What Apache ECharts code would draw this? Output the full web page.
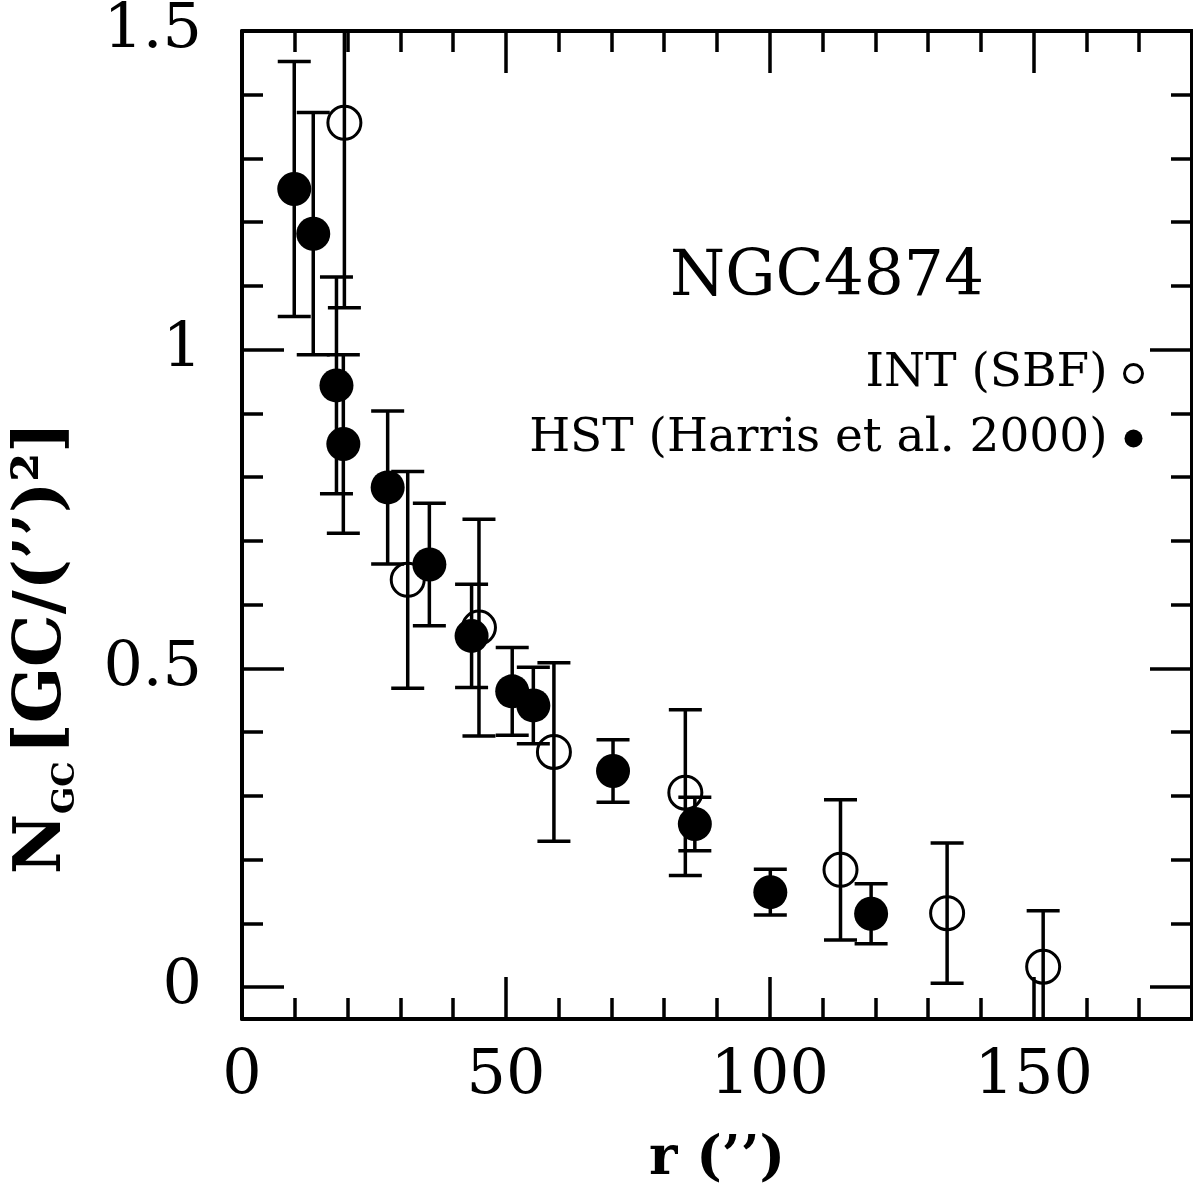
<!DOCTYPE html>
<html>
<head>
<meta charset="utf-8">
<title>NGC4874 globular cluster surface density</title>
<script src="https://cdn.jsdelivr.net/npm/echarts@6/dist/echarts.min.js"></script>
<style>
  html, body { margin: 0; padding: 0; background: #fff; }
  #chart { width: 1193px; height: 1192px; }
</style>
</head>
<body>
<div id="chart"></div>
<script>
// INT (SBF) radial profile: radius (arcsec), density, 1-sigma error
const intR   = [19.4, 31.4, 44.9, 59.1, 84.0, 113.4, 133.6, 151.8];
const intN   = [1.356, 0.639, 0.564, 0.369, 0.305, 0.184, 0.116, 0.032];
const intErr = [0.29, 0.17, 0.17, 0.14, 0.13, 0.11, 0.11, 0.088];

// HST profile (Harris et al. 2000)
const hstR   = [9.9, 13.5, 17.9, 19.2, 27.6, 35.5, 43.5, 51.2, 55.2, 70.3, 85.8, 100.1, 119.2];
const hstN   = [1.252, 1.182, 0.944, 0.852, 0.784, 0.663, 0.551, 0.464, 0.442, 0.339, 0.256, 0.149, 0.115];
const hstErr = [0.20, 0.19, 0.17, 0.14, 0.12, 0.096, 0.081, 0.069, 0.060, 0.049, 0.042, 0.036, 0.047];

// Axis ranges and tick positions
const xRange = [0, 180];
const yRange = [-0.05, 1.5];
const xMajorTicks = [0, 50, 100, 150];
const xMinorTicks = [10, 20, 30, 40, 60, 70, 80, 90, 110, 120, 130, 140, 160, 170];
const yMajorTicks = [0, 0.5, 1, 1.5];
const yMinorTicks = [0.1, 0.2, 0.3, 0.4, 0.6, 0.7, 0.8, 0.9, 1.1, 1.2, 1.3, 1.4];

// Text
const titleText = 'NGC4874';
const intName = 'INT (SBF)';
const hstName = 'HST (Harris et al. 2000)';
const xTitle = 'r (\u2019\u2019)';

const FONT = 'DejaVu Serif';
const INK = '#000';

function axisPair(kind, position, major, minor, withLabels, range) {
  const base = {
    type: 'value',
    position: position,
    min: range[0],
    max: range[1],
    splitLine: { show: false },
    axisPointer: { show: false }
  };
  const majorAxis = Object.assign({}, base, {
    axisLine: { show: true, onZero: false, lineStyle: { color: INK, width: 4 } },
    axisTick: { show: true, inside: true, length: 42, customValues: major,
                lineStyle: { color: INK, width: 3.5 } },
    axisLabel: withLabels
      ? { show: true, customValues: major, margin: kind === 'x' ? 27 : 40,
          fontSize: 62, fontFamily: FONT, color: INK, showMaxLabel: true, showMinLabel: true }
      : { show: false }
  });
  const minorAxis = Object.assign({}, base, {
    axisLine: { show: false, onZero: false },
    axisTick: { show: true, inside: true, length: 21, customValues: minor,
                lineStyle: { color: INK, width: 3.5 } },
    axisLabel: { show: false }
  });
  return [majorAxis, minorAxis];
}

const xAxes = axisPair('x', 'bottom', xMajorTicks, xMinorTicks, true, xRange)
  .concat(axisPair('x', 'top', xMajorTicks, xMinorTicks, false, xRange));
xAxes[0].name = xTitle;
xAxes[0].nameLocation = 'middle';
xAxes[0].nameGap = 114;
xAxes[0].nameTextStyle = { fontSize: 54, fontWeight: 'bold', fontFamily: FONT, color: INK };

const yAxes = axisPair('y', 'left', yMajorTicks, yMinorTicks, true, yRange)
  .concat(axisPair('y', 'right', yMajorTicks, yMinorTicks, false, yRange));

// Vertical error bar with end caps, clipped to the plotting range
function errorBar(params, api) {
  const x = api.value(0);
  const y = api.value(1);
  const e = api.value(2);
  const hiVal = y + e, loVal = y - e;
  const top = api.coord([x, Math.min(hiVal, yRange[1])]);
  const bot = api.coord([x, Math.max(loVal, yRange[0])]);
  const half = 16.5;
  const style = { stroke: INK, lineWidth: 3.5, fill: null };
  const children = [
    { type: 'line', shape: { x1: top[0], y1: top[1], x2: bot[0], y2: bot[1] }, style: style }
  ];
  if (hiVal <= yRange[1]) {
    children.push({ type: 'line', shape: { x1: top[0] - half, y1: top[1], x2: top[0] + half, y2: top[1] }, style: style });
  }
  if (loVal >= yRange[0]) {
    children.push({ type: 'line', shape: { x1: bot[0] - half, y1: bot[1], x2: bot[0] + half, y2: bot[1] }, style: style });
  }
  return { type: 'group', children: children };
}

const intData = intR.map((r, i) => [r, intN[i], intErr[i]]);
const hstData = hstR.map((r, i) => [r, hstN[i], hstErr[i]]);

const chart = echarts.init(document.getElementById('chart'), null, { renderer: 'canvas' });

chart.setOption({
  backgroundColor: '#fff',
  animation: false,
  grid: { left: 242, top: 30, width: 950, height: 989, containLabel: false },
  xAxis: xAxes,
  yAxis: yAxes,
  legend: {
    orient: 'vertical',
    right: 44,
    top: 343,
    align: 'right',
    itemWidth: 18,
    itemHeight: 18,
    itemGap: 14,
    selectedMode: false,
    textStyle: { fontSize: 47, fontFamily: FONT, color: INK, lineHeight: 51, padding: [0, 12, 0, 0] },
    data: [
      { name: intName, icon: 'circle', itemStyle: { color: 'rgba(0,0,0,0)', borderColor: INK, borderWidth: 3 } },
      { name: hstName, icon: 'circle', itemStyle: { color: INK, borderWidth: 0 } }
    ]
  },
  graphic: [
    {
      type: 'text', x: 827, y: 279,
      style: { text: titleText, fontSize: 63, fontFamily: FONT, fill: INK, align: 'center', verticalAlign: 'middle' }
    },
    {
      type: 'text', x: 45, y: 648, rotation: Math.PI / 2,
      style: {
        text: '{n|N}{s|GC}  {n|[GC/(\u2019\u2019)\u00B2]}',
        align: 'center', verticalAlign: 'middle', fill: INK,
        rich: {
          n: { fontSize: 66, fontWeight: 'bold', fontFamily: FONT, fill: INK, lineHeight: 71, verticalAlign: 'top' },
          s: { fontSize: 32, fontWeight: 'bold', fontFamily: FONT, fill: INK, lineHeight: 32, padding: [40, 0, 0, 0], verticalAlign: 'top' }
        }
      }
    }
  ],
  series: [
    {
      type: 'custom', name: 'int-err', xAxisIndex: 0, yAxisIndex: 0,
      data: intData, encode: { x: 0, y: 1 }, renderItem: errorBar, clip: true, z: 1, silent: true
    },
    {
      type: 'custom', name: 'hst-err', xAxisIndex: 0, yAxisIndex: 0,
      data: hstData, encode: { x: 0, y: 1 }, renderItem: errorBar, clip: true, z: 1, silent: true
    },
    {
      type: 'scatter', name: intName, xAxisIndex: 0, yAxisIndex: 0,
      data: intData.map(d => [d[0], d[1]]), symbol: 'circle', symbolSize: 33,
      itemStyle: { color: 'rgba(0,0,0,0)', borderColor: INK, borderWidth: 3, opacity: 1 },
      z: 2, silent: true
    },
    {
      type: 'scatter', name: hstName, xAxisIndex: 0, yAxisIndex: 0,
      data: hstData.map(d => [d[0], d[1]]), symbol: 'circle', symbolSize: 34,
      itemStyle: { color: INK, opacity: 1 },
      z: 3, silent: true
    }
  ]
});
</script>
</body>
</html>
